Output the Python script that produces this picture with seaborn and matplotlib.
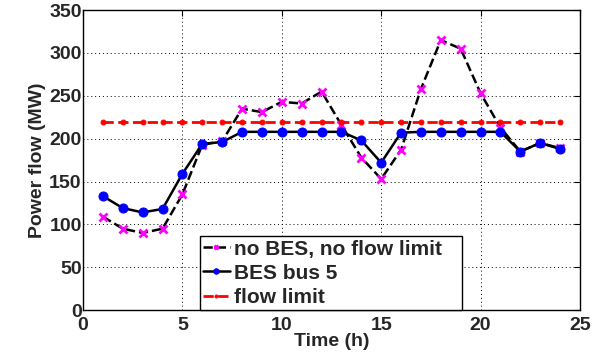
import matplotlib
matplotlib.use("Agg")
import matplotlib.pyplot as plt
import seaborn as sns
import numpy as np

hours = list(range(1, 25))
no_bes = [109, 95, 90, 95, 135, 193, 197, 235, 231, 243, 241, 255,
          216, 178, 153, 187, 258, 315, 305, 253, 213, 185, 195, 189]
bes_bus5 = [133, 119, 114, 118, 159, 194, 196, 208, 208, 208, 208, 208,
            208, 198, 172, 207, 208, 208, 208, 208, 208, 185, 195, 188]
flow_limit = [220] * 24
x_ticks = [0, 5, 10, 15, 20, 25]
y_ticks = [0, 50, 100, 150, 200, 250, 300, 350]

sns.set_style("white")
plt.rcParams['font.family'] = ['Liberation Sans', 'DejaVu Sans']
plt.rcParams['font.weight'] = 'bold'

fig = plt.figure(figsize=(6.06, 3.61), dpi=100)
ax = fig.add_axes([0.137, 0.141, 0.820, 0.831])

sns.lineplot(x=hours, y=no_bes, ax=ax, color='black', linestyle='--', lw=1.8,
             marker='x', markersize=6, markeredgecolor='magenta', mew=2,
             label='no BES, no flow limit')
sns.lineplot(x=hours, y=bes_bus5, ax=ax, color='black', linestyle='-', lw=1.8,
             marker='o', markersize=6.5, markerfacecolor='blue', markeredgecolor='blue',
             label='BES bus 5')
sns.lineplot(x=hours, y=flow_limit, ax=ax, color='red', linestyle='--', lw=2,
             marker='o', markersize=3.5, markerfacecolor='red', markeredgecolor='red',
             label='flow limit')

ax.set_xlim(0, 25)
ax.set_ylim(0, 350)
ax.set_xticks(x_ticks)
ax.set_yticks(y_ticks)
ax.tick_params(direction='in', length=4, width=0.8, labelsize=14,
               top=True, right=True, color='black')
ax.tick_params(axis='x', pad=5)
ax.tick_params(axis='y', pad=1)
for lab in ax.get_xticklabels() + ax.get_yticklabels():
    lab.set_fontweight('bold')
ax.grid(True, linestyle=(0, (1, 3)), color='black', lw=0.7)
for s in ax.spines.values():
    s.set_color('black')
    s.set_linewidth(1)
ax.set_xlabel('Time (h)', fontsize=14, fontweight='bold', labelpad=-0.5)
ax.set_ylabel('Power flow (MW)', fontsize=14, fontweight='bold', labelpad=2)

leg = ax.legend(loc='lower left', bbox_to_anchor=(0.235, 0.0, 0.527, 0.3),
                mode='expand', borderaxespad=0, handlelength=1.3, numpoints=1,
                handletextpad=0.2, borderpad=0.15, labelspacing=0.25, fancybox=False,
                framealpha=1, edgecolor='black', markerscale=0.6,
                prop={'weight': 'bold', 'size': 15})
leg.get_frame().set_linewidth(1)

fig.savefig('out.png', dpi=100)
